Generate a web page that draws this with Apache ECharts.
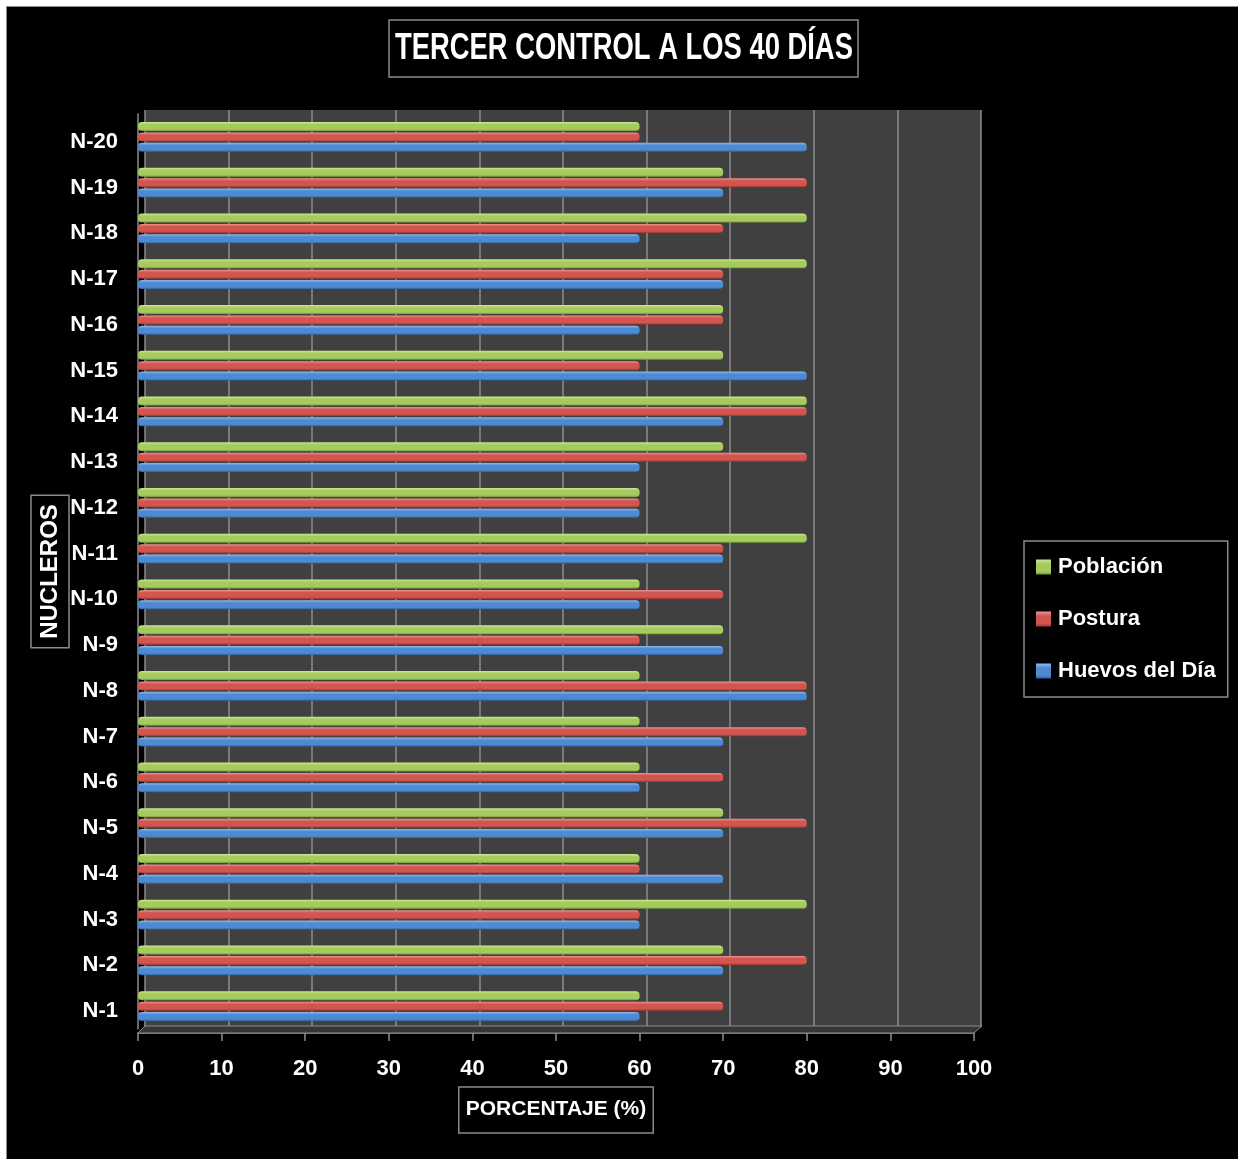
<!DOCTYPE html>
<html>
<head>
<meta charset="utf-8">
<script src="https://cdn.jsdelivr.net/npm/echarts@6/dist/echarts.min.js"></script>
<style>
  html, body { margin: 0; padding: 0; background: #fff; }
  #wrap { position: relative; width: 1238px; height: 1159px; }
  #frame { position: absolute; left: 6px; top: 6px; right: 0; bottom: 0; background: #000; border-left: 1px solid #8a8a8a; border-top: 1px solid #8a8a8a; }
  #chart { position: absolute; left: 0; top: 0; width: 1238px; height: 1159px; }
</style>
</head>
<body>
<div id="wrap">
  <div id="frame"></div>
  <div id="chart"></div>
</div>
<script>
// nucleos, de abajo (N-1) hacia arriba (N-20)
var categories = ['N-1', 'N-2', 'N-3', 'N-4', 'N-5', 'N-6', 'N-7', 'N-8', 'N-9', 'N-10',
  'N-11', 'N-12', 'N-13', 'N-14', 'N-15', 'N-16', 'N-17', 'N-18', 'N-19', 'N-20']
var poblacion = [60, 70, 80, 60, 70, 60, 60, 60, 70, 60, 80, 60, 70, 80, 70, 70, 80, 80, 70, 60]
var postura = [70, 80, 60, 60, 80, 70, 80, 80, 60, 70, 70, 60, 80, 80, 60, 70, 70, 70, 80, 60]
var huevos = [60, 70, 60, 70, 70, 60, 70, 80, 70, 60, 70, 60, 60, 70, 80, 60, 70, 60, 70, 80]
var xTicks = [0, 100, 10] // min, max, intervalo

var FONT = '"Liberation Sans", Arial, sans-serif'

// degradado tipo cilindro
function tube(light, base, dark) {
  return new echarts.graphic.LinearGradient(0, 0, 0, 1, [
    {offset: 0, color: light},
    {offset: 0.3, color: base},
    {offset: 0.8, color: base},
    {offset: 1, color: dark}
  ])
}

function barSeries(name, data, color) {
  return {
    name: name,
    type: 'bar',
    xAxisIndex: 0,
    yAxisIndex: 0,
    data: data,
    barWidth: 9,
    barGap: '15%',
    itemStyle: {color: color, borderRadius: 4},
    z: 3
  }
}

var chart = echarts.init(document.getElementById('chart'))

var option = {
  backgroundColor: 'transparent',
  animation: false,
  legend: {
    orient: 'vertical',
    left: 1024,
    top: 541,
    padding: [13, 12, 13, 12],
    borderColor: '#8a8a8a',
    borderWidth: 1.5,
    itemWidth: 15,
    itemHeight: 15,
    itemGap: 26,
    icon: 'rect',
    data: ['Población', 'Postura', 'Huevos del Día'],
    textStyle: {color: '#fff', fontFamily: FONT, fontWeight: 'bold', fontSize: 22, lineHeight: 26, padding: [0, 0, 0, 2]}
  },
  grid: [
    {left: 138, right: 264, top: 114, bottom: 130},
    // pared del fondo
    {left: 145, right: 257, top: 110, bottom: 133, show: true, backgroundColor: '#404040', borderWidth: 0}
  ],
  xAxis: [
    {
      gridIndex: 0,
      type: 'value',
      min: xTicks[0],
      max: xTicks[1],
      interval: xTicks[2],
      offset: 4,
      axisLine: {show: true, lineStyle: {color: '#8c8c8c', width: 1.5}},
      axisTick: {show: true, length: 8, lineStyle: {color: '#8c8c8c', width: 1.5}},
      axisLabel: {color: '#fff', fontFamily: FONT, fontWeight: 'bold', fontSize: 22, margin: 25},
      splitLine: {show: false},
      name: 'PORCENTAJE (%)',
      nameLocation: 'middle',
      nameGap: 54,
      nameMoveOverlap: false,
      nameTextStyle: {
        color: '#fff', fontFamily: FONT, fontWeight: 'bold', fontSize: 21,
        borderColor: '#8a8a8a', borderWidth: 1.5, padding: [12, 7, 13, 7]
      }
    },
    {
      gridIndex: 1,
      type: 'value',
      min: xTicks[0],
      max: xTicks[1],
      interval: xTicks[2],
      axisLine: {show: false},
      axisTick: {show: false},
      axisLabel: {show: false},
      splitLine: {show: true, lineStyle: {color: '#8c8c8c', width: 1.5}}
    }
  ],
  yAxis: [
    {
      gridIndex: 0,
      type: 'category',
      data: categories,
      axisLine: {show: true, lineStyle: {color: '#8c8c8c', width: 1.5}},
      axisTick: {show: false},
      axisLabel: {
        margin: 20,
        formatter: '{a|{value}}',
        rich: {a: {color: '#fff', fontFamily: FONT, fontWeight: 'bold', fontSize: 22, padding: [10, 0, 0, 0]}}
      },
      name: 'NUCLEROS',
      nameLocation: 'middle',
      nameRotate: 90,
      nameGap: 69,
      nameMoveOverlap: false,
      nameTextStyle: {
        color: '#fff', fontFamily: FONT, fontWeight: 'bold', fontSize: 24,
        borderColor: '#8a8a8a', borderWidth: 1.5, padding: [7, 9, 7, 9]
      }
    },
    {gridIndex: 1, type: 'category', data: categories, show: false}
  ],
  graphic: [
    // titulo en caja, letra estrecha
    {
      type: 'rect',
      z: 5,
      shape: {x: 389, y: 20, width: 469, height: 57},
      style: {fill: 'transparent', stroke: '#8a8a8a', lineWidth: 1.5}
    },
    {
      type: 'text',
      z: 6,
      x: 395,
      y: 49,
      scaleX: 0.74,
      style: {
        text: 'TERCER CONTROL A LOS 40 DÍAS',
        fill: '#fff',
        font: 'bold 37px "Liberation Sans", Arial, sans-serif',
        textVerticalAlign: 'middle'
      }
    },
    // piso
    {
      type: 'polygon',
      z: 1,
      shape: {points: [[145, 1026], [982, 1026], [974, 1033], [138, 1033]]},
      style: {fill: '#363636', stroke: '#8c8c8c', lineWidth: 1}
    }
  ],
  series: [
    barSeries('Población', poblacion, tube('#cbe890', '#a5ca5e', '#76963a')),
    barSeries('Postura', postura, tube('#ee9692', '#d2554f', '#9c3834')),
    barSeries('Huevos del Día', huevos, tube('#8cbaf0', '#4d8ad2', '#335f99'))
  ]
}

chart.setOption(option)
</script>
</body>
</html>
